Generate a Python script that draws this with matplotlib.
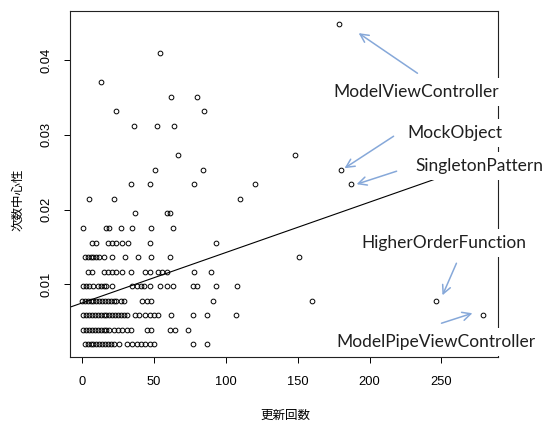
import numpy as np
import matplotlib
matplotlib.use("Agg")
import matplotlib.pyplot as plt

# update count (x) and degree (y level) of each class
update_counts = [
    179,
    54,
    13,
    62, 80,
    24, 85,
    36, 52, 64,
    67, 148,
    51, 84, 180,
    34, 47, 78, 120, 187,
    5, 22, 110,
    37, 59, 61,
    1, 17, 19, 27, 35, 48, 63,
    7, 10, 18, 21, 24, 28, 32, 47, 93,
    2, 4, 6, 8, 10, 12, 15, 21, 30, 39, 48, 61, 151,
    4, 7, 15, 18, 21, 24, 28, 34, 44, 47, 53, 56, 59, 78, 90,
    1, 3, 5, 8, 11, 13, 15, 17, 21, 35, 38, 41, 43, 47, 54, 59, 63, 77, 80, 93, 108,
    0, 2, 4, 6, 8, 10, 12, 14, 16, 18, 20, 22, 24, 27, 29, 42, 45, 48, 91, 160, 246,
    1, 3, 5, 7, 9, 11, 13, 15, 17, 19, 21, 23, 25, 27, 29, 31, 37, 40, 44, 47, 50, 53,
    62, 77, 87, 107, 279,
    1, 3, 5, 7, 9, 11, 13, 15, 17, 19, 22, 25, 28, 31, 34, 45, 48, 61, 65, 74,
    2, 4, 6, 8, 10, 12, 14, 16, 18, 20, 22, 26, 31, 35, 38, 41, 44, 47, 50, 77, 87,
]
degrees = (
    [23] + [21] + [19] + [18] * 2 + [17] * 2 + [16] * 3 + [14] * 2 + [13] * 3
    + [12] * 5 + [11] * 3 + [10] * 3 + [9] * 7 + [8] * 9 + [7] * 13 + [6] * 15
    + [5] * 21 + [4] * 21 + [3] * 27 + [2] * 20 + [1] * 21
)
n_others = 513  # degree centrality = degree / (n - 1)

# fitted line
fit_intercept = 0.0075
fit_slope = 6.75e-5

# labelled classes: text, text centre, arrow tail, arrow tip (data coords)
labels = ["ModelViewController", "MockObject", "SingletonPattern",
          "HigherOrderFunction", "ModelPipeViewController"]
label_pos = [(232.6, 0.03572), (259.0, 0.03022), (276.4, 0.02580),
             (252.0, 0.01551), (245.8, 0.00224)]
arrow_tail = [(233.3, 0.03825), (216.7, 0.02982), (218.8, 0.02514),
              (260.4, 0.01282), (250.0, 0.00479)]
arrow_tip = [(192.4, 0.04362), (182.6, 0.02554), (191.0, 0.02340),
             (250.7, 0.00853), (271.5, 0.00613)]

centrality = np.array(degrees) / n_others

plt.rcParams["font.family"] = ["Liberation Sans", "Noto Sans CJK JP"]

fig = plt.figure(figsize=(5.44, 4.21), dpi=100)
ax = fig.add_axes([70 / 544, 1 - 357 / 421, 428 / 544, 346.5 / 421])

ax.plot(update_counts, centrality, "o", mfc="none", mec="black",
        ms=3.4, mew=0.7, zorder=2)

xs = np.array([-20, 300])
ax.plot(xs, fit_intercept + fit_slope * xs, color="black", lw=0.8, zorder=2)

ax.set_xlim(-8.3, 289.3)
ax.set_ylim(0.00027, 0.04665)
ax.set_xticks([0, 50, 100, 150, 200, 250])
ax.set_yticks([0.01, 0.02, 0.03, 0.04])
ax.set_yticklabels(["0.01", "0.02", "0.03", "0.04"], rotation=90, va="center")
ax.tick_params(direction="out", length=4.5, width=0.7, labelsize=9.3,
               colors="black")
ax.tick_params(axis="x", pad=9)
ax.tick_params(axis="y", pad=8)
for s in ax.spines.values():
    s.set_linewidth(0.8)
    s.set_color("#222222")

fig.text(285 / 544, 1 - 415 / 421, "更新回数", ha="center", va="center",
         fontsize=9, family=["Noto Sans CJK JP"])
fig.text(18 / 544, 1 - 200 / 421, "次数中心性", ha="center", va="center",
         rotation=90, fontsize=9, family=["Noto Sans CJK JP"])

for tail, tip in zip(arrow_tail, arrow_tip):
    ax.annotate("", xy=tip, xytext=tail, annotation_clip=False,
                arrowprops=dict(arrowstyle="->,head_length=0.6,head_width=0.3",
                                color="#86a8d9", lw=1.1, shrinkA=0, shrinkB=0),
                zorder=4)

for txt, pos in zip(labels, label_pos):
    ax.text(pos[0], pos[1], txt, ha="center", va="center", fontsize=12.5,
            family=["Lato"], color="#1f1f1f", clip_on=False, zorder=5,
            bbox=dict(boxstyle="square,pad=0.35", fc="white", ec="none"))

fig.savefig("out.png", dpi=100)
